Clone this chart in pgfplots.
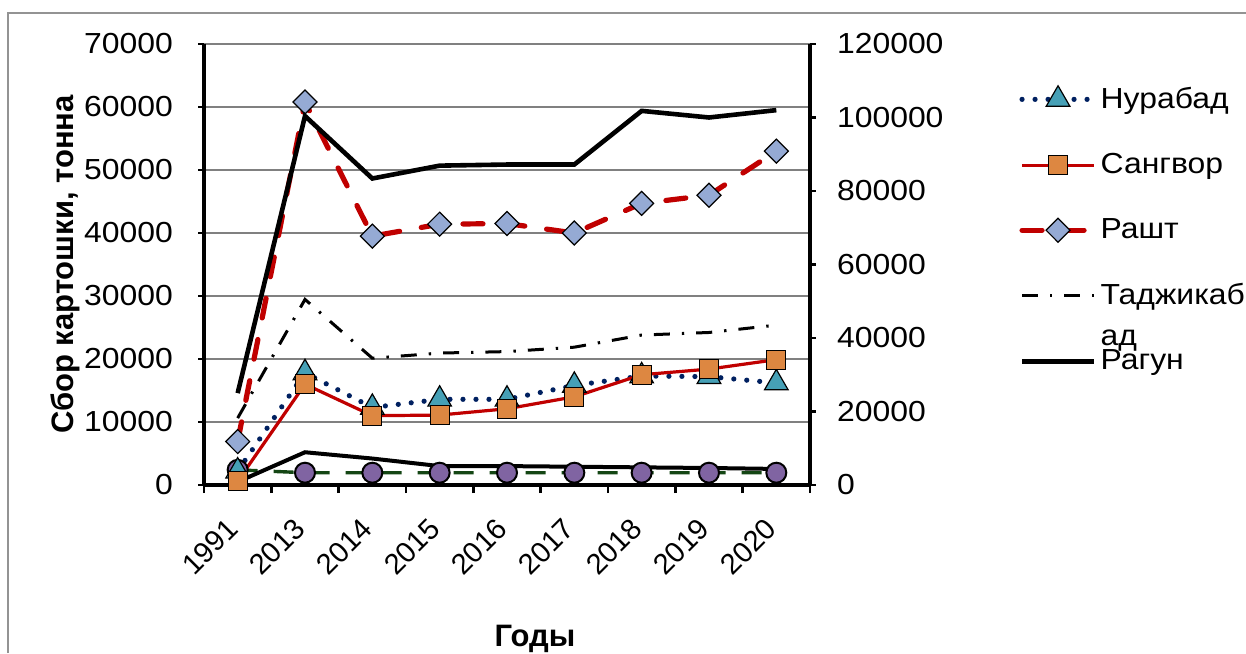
\documentclass[border=0pt]{standalone}
\usepackage{fontspec}
\setmainfont[FakeStretch=1.1]{Liberation Sans}
\newfontfamily\plainfont{Liberation Sans}
\usepackage{pgfplots}
\pgfplotsset{compat=1.18}

\definecolor{navyd}{RGB}{0,32,96}
\definecolor{tealm}{RGB}{70,160,182}
\definecolor{redd}{RGB}{192,0,0}
\definecolor{orangem}{RGB}{221,135,65}
\definecolor{bluegr}{RGB}{149,170,212}
\definecolor{purplem}{RGB}{128,100,162}
\definecolor{greend}{RGB}{20,70,20}

\newcommand\chartfont{\fontsize{14.5}{17}\selectfont}
\newcommand\tickfont{\fontsize{14.5}{17}\selectfont}

\pgfplotsset{
  common/.style={
    at={(102pt,84pt)}, anchor=south west,
    scale only axis, width=303pt, height=220.5pt,
    xmin=-0.5, xmax=8.5,
    axis line style={line width=1.6pt},
    tick align=outside, major tick length=3pt,
    tick style={black, line width=1.3pt},
    every tick label/.append style={font=\tickfont},
    scaled y ticks=false,
    /pgf/number format/fixed,
    /pgf/number format/assume math mode=true,
    /pgf/number format/1000 sep={},
    clip=false,
  },
  legend image code/.code={
    \draw[mark repeat=2, mark phase=2, #1] plot coordinates {(0pt,0pt) (18pt,0pt) (36pt,0pt)};
  },
}

\begin{document}
\begin{tikzpicture}
\useasboundingbox (0,0) rectangle (623pt,326.5pt);
\draw[gray!85, line width=0.9pt] (4pt,0pt) -- (4pt,320pt) -- (623pt,320pt);

% left axis
\begin{axis}[common,
  ymin=0, ymax=70000,
  axis y line*=left, axis x line*=bottom,
  ytick={0,10000,...,70000},
  ymajorgrids, grid style={gray, line width=0.7pt},
  xtick={0,...,8},
  xticklabels={1991,2013,2014,2015,2016,2017,2018,2019,2020},
  major x tick style={draw=none},
  minor xtick={-0.5,0.5,...,8.5},
  minor x tick style={black, line width=1.3pt},
  minor tick length=4pt,
  xticklabel style={font=\plainfont\tickfont, yshift=-14pt, rotate=45, anchor=east},
  yticklabel shift=9pt,
  xlabel={\bfseries Годы},
  xlabel style={font=\plainfont\fontsize{15.5}{18}\selectfont, at={(axis description cs:0.546,-0.35)}, anchor=center},
  ylabel={\bfseries Сбор картошки, тонна},
  ylabel style={font=\plainfont\fontsize{15.5}{18}\selectfont, at={(axis description cs:-0.229,0.5)}, anchor=center, rotate=0},
  legend style={at={(axis description cs:1.345,0.912)}, anchor=north west,
    draw=none, fill=none, font=\chartfont, row sep=17pt, inner sep=0pt,
    cells={anchor=west}},
]
% unlabelled series
\addplot[greend, line width=1.7pt, dash pattern=on 10pt off 8pt,
  mark=*, mark size=5pt, mark options={solid, fill=purplem, draw=black, line width=1pt},
  forget plot]
  coordinates {(0,2400) (1,1950) (2,1950) (3,1950) (4,1950) (5,1950) (6,1950) (7,1950) (8,1950)};

\addplot[navyd, line width=2.6pt, line cap=round, dash pattern=on 0pt off 6.5pt,
  mark=triangle*, mark size=6.8pt, mark options={solid, fill=tealm, draw=black, line width=0.6pt}]
  coordinates {(0,2200) (1,17800) (2,12300) (3,13600) (4,13600) (5,15800) (6,17300) (7,17200) (8,16200)};
\addlegendentry{Нурабад}

\addplot[redd, line width=1.6pt,
  mark=square*, mark size=4.75pt, mark options={solid, fill=orangem, draw=black, line width=0.6pt}]
  coordinates {(0,600) (1,16000) (2,11000) (3,11100) (4,12100) (5,14000) (6,17500) (7,18400) (8,19900)};
\addlegendentry{Сангвор}

\addplot[black, line width=2pt, forget plot]
  coordinates {(0,500) (1,5200) (2,4200) (3,3000) (4,3000) (5,2900) (6,2800) (7,2700) (8,2550)};

\addplot[redd, line width=2.6pt, line cap=round, dash pattern=on 10pt off 11pt,
  mark=diamond*, mark size=6pt, mark options={solid, xscale=1.33, fill=bluegr, draw=black, line width=0.6pt}]
  coordinates {(0,6900) (1,60800) (2,39500) (3,41400) (4,41500) (5,40000) (6,44700) (7,46000) (8,53000)};
\addlegendentry{Рашт}

\addlegendimage{black, line width=1.5pt, dash pattern=on 8pt off 6pt on 1.2pt off 6pt}
\addlegendentry{\makebox[0pt][l]{\smash{\raisebox{-20.5pt}{ад}}}Таджикаб}
\addlegendimage{black, line width=2.3pt}
\addlegendentry{Рагун}
\end{axis}

% right axis
\begin{axis}[common,
  ymin=0, ymax=120000,
  axis y line*=right, axis x line=none,
  ytick={0,20000,...,120000},
  yticklabel shift=7pt,
]
\addplot[black, line width=1.5pt, dash pattern=on 8pt off 6pt on 1.2pt off 6pt]
  coordinates {(0,18200) (1,50500) (2,34500) (3,35900) (4,36300) (5,37500) (6,40800) (7,41500) (8,43500)};
\addplot[black, line width=2.3pt]
  coordinates {(0,25000) (1,100400) (2,83400) (3,86900) (4,87200) (5,87200) (6,101800) (7,100000) (8,102000)};
\end{axis}
\end{tikzpicture}
\end{document}
